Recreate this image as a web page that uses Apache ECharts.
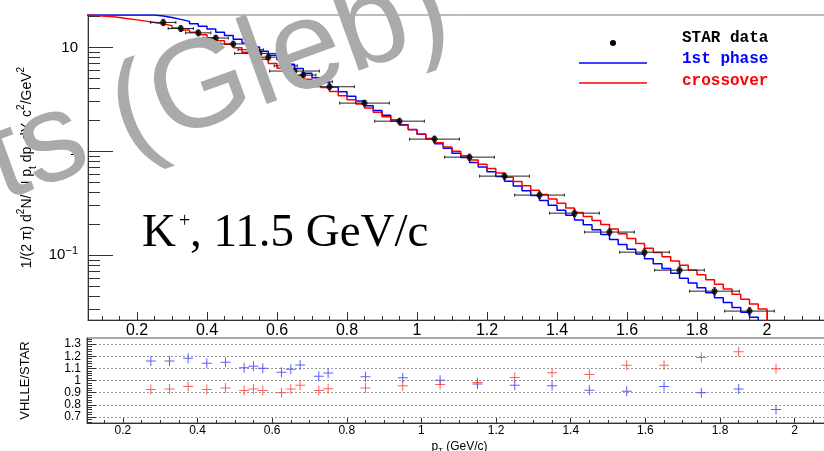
<!DOCTYPE html>
<html>
<head>
<meta charset="utf-8">
<title>K+ spectrum 11.5 GeV</title>
<script src="https://cdn.jsdelivr.net/npm/echarts@6.0.0/dist/echarts.min.js"></script>
<style>
  html, body { margin: 0; padding: 0; background: #fff; }
  #main { width: 824px; height: 451px; }
</style>
</head>
<body>
<div id="main"></div>
<script>
// histogram bins of the model curves start at pT = 0 and are 0.025 GeV/c wide
var binWidth = 0.025;

// vHLLE, 1st order phase transition (blue)
var firstPhase = [
  20.5, 20.5, 20.5, 20.5, 20.5, 20.5, 20.5, 20.5, 20.5, 20.5,
  20.1, 19.4, 18.6, 17.8, 16.9, 16.0, 15.0, 14.0, 13.0, 12.0,
  11.0, 10.1, 9.2, 8.4, 7.6, 6.9, 6.25, 5.65, 5.1, 4.6,
  4.15, 3.75, 3.38, 3.05, 2.75, 2.47, 2.22, 2.0, 1.80, 1.62,
  1.46, 1.32, 1.18, 1.07, 0.96, 0.87, 0.78, 0.705, 0.635, 0.572,
  0.515, 0.463, 0.417, 0.375, 0.337, 0.302, 0.271, 0.243, 0.218, 0.196,
  0.176, 0.158, 0.142, 0.127, 0.114, 0.103, 0.0925, 0.083, 0.0745, 0.067,
  0.060, 0.054, 0.0485, 0.0435, 0.039, 0.035, 0.0314, 0.0282, 0.0253, 0.0227
];

// vHLLE, crossover (red)
var crossover = [
  20.5, 20.5, 20.4, 20.1, 19.8, 19.4, 18.9, 18.4, 17.9, 17.4,
  16.8, 16.2, 15.4, 14.7, 14.0, 13.2, 12.4, 11.6, 10.7, 9.9,
  9.0, 8.4, 7.7, 7.0, 6.3, 5.8, 5.37, 4.95, 4.52, 4.12,
  3.76, 3.43, 3.13, 2.86, 2.61, 2.37, 2.15, 1.95, 1.78, 1.61,
  1.47, 1.33, 1.21, 1.10, 1.00, 0.908, 0.826, 0.750, 0.682, 0.619,
  0.564, 0.512, 0.465, 0.422, 0.383, 0.348, 0.316, 0.285, 0.258, 0.236,
  0.216, 0.197, 0.179, 0.161, 0.145, 0.130, 0.117, 0.106, 0.0968, 0.0881,
  0.080, 0.0721, 0.0649, 0.0582, 0.0525, 0.0473, 0.0422, 0.0376, 0.0339, 0.0303
];

// STAR data
var starPt = [0.275, 0.325, 0.375, 0.425, 0.475, 0.525, 0.55, 0.575, 0.625, 0.65, 0.675, 0.725, 0.75,
              0.85, 0.95, 1.05, 1.15, 1.25, 1.35, 1.45, 1.55, 1.65, 1.75, 1.85, 1.95];
var starVal = [17.4, 15.2, 13.8, 12.3, 10.8, 9.5, 8.75, 8.06, 6.65, 5.92, 5.41, 4.67, 4.18,
               2.91, 1.95, 1.31, 0.879, 0.577, 0.379, 0.254, 0.167, 0.107, 0.0718, 0.0451, 0.029];
var starErrX = [0.036, 0.036, 0.036, 0.036, 0.036, 0.036, 0.071, 0.036, 0.033, 0.071, 0.036, 0.033, 0.071,
                0.071, 0.071, 0.071, 0.071, 0.071, 0.071, 0.071, 0.071, 0.071, 0.071, 0.071, 0.071];
var starErrY = [1.2, 1.0, 0.9, 0.8, 0.7, 0.6, 0.55, 0.5, 0.42, 0.38, 0.35, 0.3, 0.27,
                0.19, 0.13, 0.09, 0.06, 0.04, 0.027, 0.018, 0.012, 0.008, 0.0055, 0.0035, 0.0023];

// VHLLE / STAR
var ratioFirst = [1.161, 1.161, 1.183, 1.142, 1.15, 1.106, 1.117, 1.10, 1.067, 1.092, 1.128, 1.036, 1.061,
                  1.031, 1.022, 1.003, 0.972, 0.961, 0.956, 0.919, 0.911, 0.95, 0.90, 0.931, 0.761];
var ratioCross = [0.925, 0.931, 0.95, 0.925, 0.939, 0.917, 0.931, 0.917, 0.90, 0.931, 0.961, 0.917, 0.933,
                  0.939, 0.956, 0.967, 0.983, 1.025, 1.064, 1.05, 1.125, 1.125, 1.189, 1.236, 1.097];

// axis labels
var ptLabels = [0.2, 0.4, 0.6, 0.8, 1, 1.2, 1.4, 1.6, 1.8, 2];
var specLabels = [0.1, 1, 10];
var ratioLabels = [0.7, 0.8, 0.9, 1, 1.1, 1.2, 1.3];

var sans = '"Liberation Sans", Arial, sans-serif';

function stepData(vals) {
  var pts = vals.map(function (v, i) { return [i * binWidth, v]; });
  pts.push([vals.length * binWidth, 1e-4]); // closing edge of the histogram
  return pts;
}

function tickRange(from, to, step, skipEvery) {
  var out = [];
  for (var k = Math.round(from / step); k * step <= to + 1e-9; k++) {
    var v = +(k * step).toFixed(4);
    if (skipEvery && Math.abs(v / skipEvery - Math.round(v / skipEvery)) < 1e-6) continue;
    out.push(v);
  }
  return out;
}

var logMinor = [];
[0.01, 0.1, 1, 10].forEach(function (d) {
  for (var m = 2; m <= 9; m++) logMinor.push(+(m * d).toPrecision(2));
});

function ptFmt(v) { return String(+v.toFixed(1)); }

var myChart = echarts.init(document.getElementById('main'));

var option = {
  animation: false,
  grid: [
    { left: 88, top: 15, right: -13, bottom: 131, show: true, borderColor: '#777', borderWidth: 1, outerBoundsMode: 'none', containLabel: false },
    { left: 87, top: 338, right: -8, bottom: 28, show: true, borderColor: '#555', borderWidth: 1, outerBoundsMode: 'none', containLabel: false }
  ],
  xAxis: [
    {
      gridIndex: 0, type: 'value', min: 0.06, max: 2.2, position: 'bottom',
      axisLine: { lineStyle: { color: '#333', width: 1 } },
      axisTick: { inside: true, length: 8, customValues: tickRange(0.2, 2.2, 0.2), lineStyle: { color: '#333' } },
      axisLabel: { customValues: ptLabels, formatter: ptFmt, fontSize: 16, fontFamily: sans, color: '#000', margin: 3, hideOverlap: false },
      splitLine: { show: false }
    },
    {
      gridIndex: 0, type: 'value', min: 0.06, max: 2.2, position: 'bottom',
      axisLine: { show: false },
      axisTick: { inside: true, length: 4, customValues: tickRange(0.1, 2.2, 0.05, 0.2), lineStyle: { color: '#333' } },
      axisLabel: { show: false },
      splitLine: { show: false }
    },
    {
      gridIndex: 1, type: 'value', min: 0.104, max: 2.1, position: 'bottom',
      axisLine: { lineStyle: { color: '#333', width: 1 } },
      axisTick: { inside: true, length: 5, customValues: tickRange(0.2, 2.1, 0.2), lineStyle: { color: '#333' } },
      axisLabel: { customValues: ptLabels, formatter: ptFmt, fontSize: 12, fontFamily: sans, color: '#000', margin: 2, hideOverlap: false },
      splitLine: { show: false },
      name: '{n|p}{sub|T}{n| (GeV/c)}', nameLocation: 'middle', nameGap: 16,
      nameTextStyle: {
        fontFamily: sans, color: '#000',
        rich: {
          n: { fontSize: 12, lineHeight: 16, fontFamily: sans, color: '#000' },
          sub: { fontSize: 8, lineHeight: 8, verticalAlign: 'bottom', fontFamily: sans, color: '#000' }
        }
      }
    },
    {
      gridIndex: 1, type: 'value', min: 0.104, max: 2.1, position: 'bottom',
      axisLine: { show: false },
      axisTick: { inside: true, length: 3, customValues: tickRange(0.15, 2.1, 0.05, 0.2), lineStyle: { color: '#333' } },
      axisLabel: { show: false },
      splitLine: { show: false }
    }
  ],
  yAxis: [
    {
      gridIndex: 0, type: 'log', logBase: 10, min: 0.0238, max: 20.5, position: 'left',
      axisLine: { show: true, lineStyle: { color: '#333', width: 1 } },
      axisTick: { show: true, inside: true, length: 25, customValues: specLabels, lineStyle: { color: '#333' } },
      axisLabel: {
        customValues: specLabels, margin: 10, fontSize: 14, fontFamily: sans, color: '#000', hideOverlap: false,
        formatter: function (v) { return v < 0.5 ? '{b|10}{s|\u22121}' : '{b|' + v + '}'; },
        rich: {
          b: { fontSize: 15, lineHeight: 20, fontFamily: sans, color: '#000' },
          s: { fontSize: 11, lineHeight: 11, verticalAlign: 'top', fontFamily: sans, color: '#000' }
        }
      },
      splitLine: { show: false },
      name: '{n|1/(2 \u03c0) d}{sup|2}{n|N/ N p}{sub|t}{n| dp}{sub|t}{n| dY, c}{sup|2}{n|/GeV}{sup|2}',
      nameLocation: 'middle', nameRotate: 90, nameGap: 38,
      nameTextStyle: {
        fontFamily: sans, color: '#000',
        rich: {
          n: { fontSize: 14, lineHeight: 22, fontFamily: sans, color: '#000' },
          sup: { fontSize: 10, lineHeight: 10, verticalAlign: 'top', fontFamily: sans, color: '#000' },
          sub: { fontSize: 10, lineHeight: 10, verticalAlign: 'bottom', fontFamily: sans, color: '#000' }
        }
      }
    },
    {
      gridIndex: 0, type: 'log', logBase: 10, min: 0.0238, max: 20.5, position: 'left',
      axisLine: { show: false },
      axisTick: { show: true, inside: true, length: 12, customValues: logMinor, lineStyle: { color: '#333' } },
      axisLabel: { show: false },
      splitLine: { show: false }
    },
    {
      gridIndex: 1, type: 'value', min: 0.65, max: 1.35, position: 'left',
      axisLine: { show: true, lineStyle: { color: '#333', width: 1 } },
      axisTick: { show: true, inside: true, length: 9, customValues: ratioLabels, lineStyle: { color: '#333' } },
      axisLabel: { customValues: ratioLabels, formatter: ptFmt, fontSize: 12, fontFamily: sans, color: '#000', margin: 6,
                   showMinLabel: true, showMaxLabel: true, hideOverlap: false },
      splitLine: { show: true, lineStyle: { color: '#999', type: [2, 2], width: 1 } },
      name: 'VHLLE/STAR', nameLocation: 'middle', nameRotate: 90, nameGap: 55,
      nameTextStyle: { fontSize: 13, fontFamily: sans, color: '#000' }
    },
    {
      gridIndex: 1, type: 'value', min: 0.65, max: 1.35, position: 'left',
      axisLine: { show: false },
      axisTick: { show: true, inside: true, length: 5, customValues: tickRange(0.66, 1.34, 0.02, 0.1), lineStyle: { color: '#333' } },
      axisLabel: { show: false },
      splitLine: { show: false }
    }
  ],
  series: [
    {
      name: '1st phase', type: 'line', xAxisIndex: 0, yAxisIndex: 0, step: 'end', symbol: 'none',
      data: stepData(firstPhase), clip: true, z: 3,
      lineStyle: { color: '#0000ff', width: 1.5 }
    },
    {
      name: 'crossover', type: 'line', xAxisIndex: 0, yAxisIndex: 0, step: 'end', symbol: 'none',
      data: stepData(crossover), clip: true, z: 4,
      lineStyle: { color: '#ff0000', width: 1.5 }
    },
    {
      name: 'STAR errors', type: 'custom', xAxisIndex: 0, yAxisIndex: 0, z: 5,
      data: starPt.map(function (p, i) { return [p, starVal[i], starErrX[i], starErrY[i]]; }),
      encode: { x: 0, y: 1 },
      renderItem: function (params, api) {
        var x = api.value(0), y = api.value(1), ex = api.value(2), ey = api.value(3);
        var l = api.coord([x - ex, y]), r = api.coord([x + ex, y]);
        var t = api.coord([x, y + ey]), b = api.coord([x, y - ey]);
        var st = { stroke: '#222', lineWidth: 1 };
        return {
          type: 'group',
          children: [
            { type: 'line', shape: { x1: l[0], y1: l[1], x2: r[0], y2: r[1] }, style: st },
            { type: 'line', shape: { x1: t[0], y1: t[1], x2: b[0], y2: b[1] }, style: st },
            { type: 'line', shape: { x1: l[0], y1: l[1] - 1.5, x2: l[0], y2: l[1] + 1.5 }, style: st },
            { type: 'line', shape: { x1: r[0], y1: r[1] - 1.5, x2: r[0], y2: r[1] + 1.5 }, style: st },
            { type: 'line', shape: { x1: t[0] - 1.5, y1: t[1], x2: t[0] + 1.5, y2: t[1] }, style: st },
            { type: 'line', shape: { x1: b[0] - 1.5, y1: b[1], x2: b[0] + 1.5, y2: b[1] }, style: st }
          ]
        };
      }
    },
    {
      name: 'STAR data', type: 'scatter', xAxisIndex: 0, yAxisIndex: 0, z: 6,
      symbol: 'circle', symbolSize: 6, itemStyle: { color: '#000' },
      data: starPt.map(function (p, i) { return [p, starVal[i]]; })
    },
    {
      name: 'ratio 1st phase', type: 'scatter', xAxisIndex: 2, yAxisIndex: 2,
      symbol: 'path://M0,4.5H10V5.5H0Z M4.5,0H5.5V10H4.5Z', symbolSize: 10,
      itemStyle: { color: '#3333ff' },
      data: starPt.map(function (p, i) { return [p, ratioFirst[i]]; })
    },
    {
      name: 'ratio crossover', type: 'scatter', xAxisIndex: 2, yAxisIndex: 2,
      symbol: 'path://M0,4.5H10V5.5H0Z M4.5,0H5.5V10H4.5Z', symbolSize: 10,
      itemStyle: { color: '#ff3333' },
      data: starPt.map(function (p, i) { return [p, ratioCross[i]]; })
    }
  ],
  graphic: [
    { type: 'text', x: 142, y: 234, z: 50, style: { text: 'K', font: '47px "Liberation Serif", serif', fill: '#000', verticalAlign: 'middle' } },
    { type: 'text', x: 179, y: 222, z: 50, style: { text: '+', font: '20px "Liberation Serif", serif', fill: '#000', verticalAlign: 'middle' } },
    { type: 'text', x: 190, y: 234, z: 50, style: { text: ', 11.5 GeV/c', font: '47px "Liberation Serif", serif', fill: '#000', verticalAlign: 'middle' } },

    { type: 'circle', z: 50, shape: { cx: 613, cy: 43, r: 3 }, style: { fill: '#000' } },
    { type: 'line', z: 50, shape: { x1: 579, y1: 63, x2: 647, y2: 63 }, style: { stroke: '#0000ff', lineWidth: 1.5 } },
    { type: 'line', z: 50, shape: { x1: 579, y1: 83, x2: 647, y2: 83 }, style: { stroke: '#ff0000', lineWidth: 1.5 } },
    { type: 'text', x: 682, y: 38, z: 50, style: { text: 'STAR data', font: 'bold 16px "Liberation Mono", monospace', fill: '#000', verticalAlign: 'middle' } },
    { type: 'text', x: 682, y: 59, z: 50, style: { text: '1st phase', font: 'bold 16px "Liberation Mono", monospace', fill: '#0000ff', verticalAlign: 'middle' } },
    { type: 'text', x: 682, y: 81, z: 50, style: { text: 'crossover', font: 'bold 16px "Liberation Mono", monospace', fill: '#ff0000', verticalAlign: 'middle' } },

    // watermark over the plot
    { type: 'text', x: 12, y: 227, rotation: 20 * Math.PI / 180, z: 100,
      style: { text: 'ts (Gleb)', font: '126px "Liberation Sans", Arial, sans-serif', fill: '#aaaaaa', verticalAlign: 'bottom' } }
  ]
};

myChart.setOption(option);
</script>
</body>
</html>
